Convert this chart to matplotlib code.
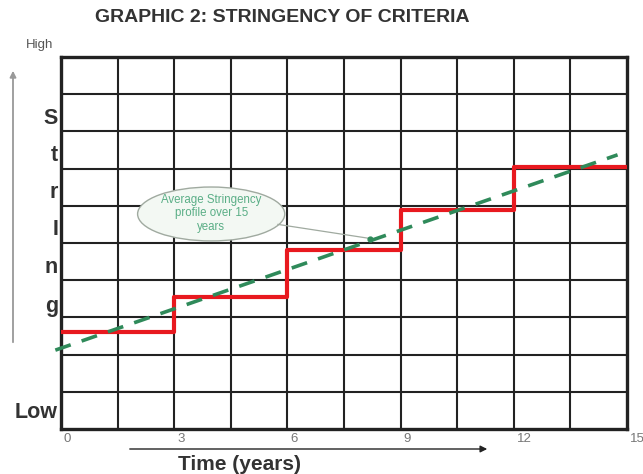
import matplotlib
matplotlib.use("Agg")
import matplotlib.pyplot as plt
from matplotlib.patches import Ellipse, FancyArrowPatch
import matplotlib.transforms as mtransforms

plt.rcParams['font.family'] = ['Liberation Sans', 'DejaVu Sans']

# Stepwise stringency profile (level held for each 3-year period)
step_years = [0, 3, 6, 9, 12, 15]
step_levels = [2.6, 3.55, 4.8, 5.9, 7.05]

# Average stringency trend line (start and end points)
trend_years = [-0.15, 14.75]
trend_levels = [2.12, 7.37]

x_ticks = [0, 3, 6, 9, 12, 15]
x_tick_labels = ["0", "3", "6", "9", "12", "15"]

y_letters = ["S", "t", "r", "I", "n", "g"]
y_letter_pos = [8.35, 7.35, 6.35, 5.35, 4.35, 3.3]

fig = plt.figure(figsize=(6.43, 4.74), dpi=100)
ax = fig.add_axes([61 / 643, 45 / 474, 566 / 643, 372 / 474])
ax.set_xlim(0, 15)
ax.set_ylim(0, 10)

# 10 x 10 grid
for i in range(1, 10):
    ax.axvline(i * 1.5, color='#222222', lw=1.5, zorder=1)
    ax.axhline(i * 1.0, color='#222222', lw=1.5, zorder=1)
for sp in ax.spines.values():
    sp.set_linewidth(2.4)
    sp.set_color('#222222')

# Step profile
xs, ys = [], []
for i, lvl in enumerate(step_levels):
    xs += [step_years[i], step_years[i + 1]]
    ys += [lvl, lvl]
ax.plot(xs, ys, color='#e8191f', lw=3.0, solid_joinstyle='round', zorder=3)

# Trend line
ax.plot(trend_years, trend_levels, color='#2f8a5a', lw=2.6,
        dashes=(4.5, 3.2), clip_on=False, zorder=4)

# Callout bubble
ell = Ellipse((3.98, 5.78), 3.9, 1.45, facecolor='#f3f8f3', edgecolor='#a0aaa0',
              lw=1.0, zorder=5)
ax.add_patch(ell)
ax.plot([5.75, 8.2], [5.5, 5.12], color='#a0aaa0', lw=0.9, zorder=5)
ax.plot([8.2], [5.12], marker='o', ms=3.5, color='#2f8a5a', zorder=6)
ax.text(3.98, 5.8, "Average Stringency\nprofile over 15\nyears", ha='center',
        va='center', fontsize=8.3, color='#5aae86', linespacing=1.15, zorder=6)

# Axis ticks
ax.set_xticks(x_ticks)
ax.set_xticklabels(x_tick_labels, fontsize=9.5, color='#777777')
ax.set_yticks([])
ax.tick_params(axis='x', length=0, pad=3)
offset = mtransforms.ScaledTranslation(3 / 100, 0, fig.dpi_scale_trans)
for lbl in ax.get_xticklabels():
    lbl.set_horizontalalignment('left')
    lbl.set_transform(lbl.get_transform() + offset)

# Vertical axis word
ytrans = mtransforms.blended_transform_factory(fig.transFigure, ax.transData)
for ch, pos in zip(y_letters, y_letter_pos):
    ax.text(58 / 643, pos, ch, transform=ytrans, ha='right', va='center',
            fontsize=15.5, fontweight='bold', color='#333333')
ax.text(58 / 643, 0.45, "Low", transform=ytrans, ha='right', va='center',
        fontsize=15.5, fontweight='bold', color='#333333')
fig.text(40 / 643, 1 - 45 / 474, "High", ha='center', va='center',
         fontsize=9.5, color='#555555')

# Direction arrows
fig.add_artist(FancyArrowPatch(
    (13 / 643, 1 - 345 / 474), (13 / 643, 1 - 68 / 474),
    transform=fig.transFigure, arrowstyle='-|>', mutation_scale=9,
    color='#999999', lw=1.3))
fig.add_artist(FancyArrowPatch(
    (127 / 643, 1 - 449 / 474), (490 / 643, 1 - 449 / 474),
    transform=fig.transFigure, arrowstyle='-|>', mutation_scale=10,
    color='#222222', lw=1.0))

fig.text(240 / 643, 1 - 464 / 474, "Time (years)", ha='center', va='center',
         fontsize=15, fontweight='bold', color='#333333')
fig.text(95 / 643, 1 - 18 / 474, "GRAPHIC 2: STRINGENCY OF CRITERIA", ha='left',
         va='center', fontsize=14, fontweight='bold', color='#333333')

fig.savefig("out.png", dpi=100)
